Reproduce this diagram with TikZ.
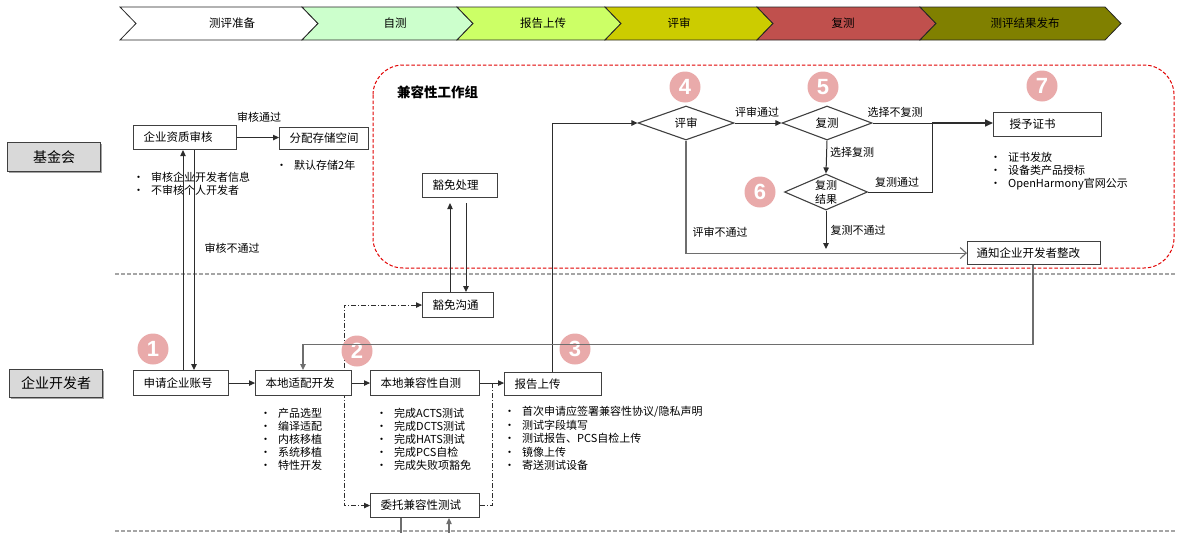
\documentclass[tikz,border=0pt]{standalone}
\usepackage{fontspec}
\setmainfont{Noto Sans CJK SC}
\newfontfamily\numfont{Liberation Sans}
\usetikzlibrary{arrows.meta,shapes.geometric,shadows,calc}
\definecolor{boxc}{RGB}{64,64,64}
\definecolor{linec}{RGB}{45,45,45}
\definecolor{glinec}{RGB}{110,110,110}
\definecolor{pinkc}{RGB}{233,170,170}
\definecolor{sepc}{RGB}{165,165,165}
\definecolor{redc}{RGB}{225,0,0}
\definecolor{chA}{RGB}{255,255,255}
\definecolor{chB}{RGB}{204,255,204}
\definecolor{chC}{RGB}{204,255,102}
\definecolor{chD}{RGB}{204,204,0}
\definecolor{chE}{RGB}{192,80,77}
\definecolor{chF}{RGB}{128,128,0}
\definecolor{lanec}{RGB}{217,217,217}
\newcommand\fsA{\fontsize{11.5}{13}\selectfont}
\newcommand\fsB{\fontsize{11}{13}\selectfont}
\newcommand\bl[1]{\makebox[18pt][l]{•}#1}
\pgfdeclarelayer{bg}
\pgfsetlayers{bg,main}
\begin{document}
\begin{tikzpicture}[x=1pt,y=-1pt,
  chevline/.style={draw=black!85, line width=0.8pt},
  bx/.style={draw=boxc, line width=1.1pt, fill=white, anchor=north west, inner xsep=10pt, inner ysep=0pt, text width=#1, align=left, font=\fsA},
  lane/.style={draw=boxc, line width=1.1pt, fill=lanec, anchor=north west, inner sep=0pt, font=\fontsize{14}{16}\selectfont, drop shadow={shadow xshift=1.8pt, shadow yshift=-1.8pt, fill=black!45, opacity=0.8}},
  dia/.style={diamond, draw=boxc, line width=1.1pt, fill=white, inner sep=0pt, font=\fsA},
  circ/.style={circle, fill=pinkc, minimum size=31pt, inner sep=0pt, text=white, font=\numfont\bfseries\fontsize{22}{22}\selectfont},
  lbl/.style={inner sep=0pt, font=\fsB},
  blist/.style={inner sep=0pt, anchor=north west, align=left, font=\fsB},
  arr/.style={draw=linec, line width=1pt, -{Triangle[length=6pt,width=5.5pt]}},
  garr/.style={draw=glinec, line width=1.1pt, -{Triangle[length=6pt,width=5.5pt]}},
  gline/.style={draw=glinec, line width=1.1pt},
  line/.style={draw=linec, line width=1pt},
  oarr/.style={draw=glinec, line width=1.1pt, -{Straight Barb[length=6pt,width=11pt]}},
  dd/.style={draw=linec, line width=0.9pt, dash pattern=on 5pt off 2pt on 1pt off 2pt},
  sep/.style={draw=sepc, line width=1.6pt, dash pattern=on 4pt off 2pt},
]
\useasboundingbox (0,0) rectangle (1200,533);

% ---------- phase banner ----------
\draw[chevline, fill=chA] (120,7) -- (302,7) -- (318,23.5) -- (302,40) -- (120,40) -- (136,23.5) -- cycle;
\draw[chevline, fill=chB] (302,7) -- (457,7) -- (473,23.5) -- (457,40) -- (302,40) -- (318,23.5) -- cycle;
\draw[chevline, fill=chC] (457,7) -- (605,7) -- (621,23.5) -- (605,40) -- (457,40) -- (473,23.5) -- cycle;
\draw[chevline, fill=chD] (605,7) -- (757,7) -- (773,23.5) -- (757,40) -- (605,40) -- (621,23.5) -- cycle;
\draw[chevline, fill=chE] (757,7) -- (920,7) -- (936,23.5) -- (920,40) -- (757,40) -- (773,23.5) -- cycle;
\draw[chevline, fill=chF] (920,7) -- (1105,7) -- (1121,23.5) -- (1105,40) -- (920,40) -- (936,23.5) -- cycle;
\node[lbl, font=\fsA] (p1) at (232,23.5) {测评准备};
\node[lbl, font=\fsA] (p2) at (395,23.5) {自测};
\node[lbl, font=\fsA] (p3) at (543,23.5) {报告上传};
\node[lbl, font=\fsA] (p4) at (679,23.5) {评审};
\node[lbl, font=\fsA] (p5) at (843,23.5) {复测};
\node[lbl, font=\fsA] (p6) at (1025,23.5) {测评结果发布};

% ---------- lanes ----------
\draw[sep] (115,274) -- (1176,274);
\draw[sep] (115,531) -- (1176,531);
\draw[redc, line width=1pt, dash pattern=on 3.5pt off 2pt, rounded corners=30pt] (373,65) rectangle (1174,268);
\node[inner sep=0pt, anchor=west, font=\fontsize{13.5}{15}\selectfont\bfseries] (grp) at (397,92) {兼容性工作组};

\node[lane, minimum width=93pt, minimum height=29pt] (jj) at (7,142) {基金会};
\node[lane, minimum width=93pt, minimum height=28pt] (qy) at (9,369) {企业开发者};

% ---------- boxes ----------
\node[bx=83pt, minimum height=24pt] (zz) at (133,125) {企业资质审核};
\node[bx=69pt, minimum height=22pt] (fp) at (279,127) {分配存储空间};
\node[bx=75pt, minimum height=25pt] (sq) at (133,370) {申请企业账号};
\node[bx=76pt, minimum height=25pt] (bd) at (255,370) {本地适配开发};
\node[bx=89pt, minimum height=25pt] (zc) at (370,370) {本地兼容性自测};
\node[bx=77pt, minimum height=23pt] (bg) at (504,372) {报告上传};
\node[bx=51pt, minimum height=25pt] (hg) at (422,292) {豁免沟通};
\node[bx=55pt, minimum height=24pt] (hc) at (422,173) {豁免处理};
\node[bx=89pt, minimum height=24pt] (wt) at (370,493) {委托兼容性测试};
\node[bx=108pt, minimum height=24pt, inner xsep=0pt, text width=108pt] (sz) at (993,112) {\hspace*{16pt}授予证书};
\node[bx=115pt, minimum height=23pt, inner xsep=9pt] (tz) at (967,241) {通知企业开发者整改};

\node[dia, minimum width=96pt, minimum height=34pt] (ps) at (686,123) {评审};
\node[dia, minimum width=90pt, minimum height=34pt] (fc) at (827,123) {复测};
\node[dia, minimum width=83pt, minimum height=36pt, aspect=2.3, align=center, font=\fontsize{11}{14}\selectfont] (jg) at (826,192) {复测\\结果};

% ---------- numbered circles ----------
\node[circ] (c1) at (153,349) {1};
\node[circ] (c2) at (357,351) {2};
\node[circ] (c3) at (575,349) {3};
\node[circ] (c4) at (685,87) {4};
\node[circ] (c5) at (823,87) {5};
\node[circ] (c6) at (760,192) {6};
\node[circ] (c7) at (1042,86) {7};

% ---------- bullet lists ----------
\node[blist] (l1) at (133,172) {\bl{审核企业开发者信息}\\\bl{不审核个人开发者}};
\node[blist] (l2) at (276,160) {\bl{默认存储2年}};
\node[blist] (l3) at (260,408) {\bl{产品选型}\\\bl{编译适配}\\\bl{内核移植}\\\bl{系统移植}\\\bl{特性开发}};
\node[blist] (l4) at (376,408) {\bl{完成ACTS测试}\\\bl{完成DCTS测试}\\\bl{完成HATS测试}\\\bl{完成PCS自检}\\\bl{完成失败项豁免}};
\node[blist, font=\fontsize{11}{13.5}\selectfont] (l5) at (504,406) {\bl{首次申请应签署兼容性协议/隐私声明}\\\bl{测试字段填写}\\\bl{测试报告、PCS自检上传}\\\bl{镜像上传}\\\bl{寄送测试设备}};
\node[blist] (l6) at (990,152) {\bl{证书发放}\\\bl{设备类产品授标}\\\bl{OpenHarmony官网公示}};

% ---------- connectors ----------
\begin{pgfonlayer}{bg}
\coordinate (ddx) at (344,400);
\draw[dd, {Triangle[length=6pt,width=5.5pt]}-{Triangle[length=6pt,width=5.5pt]}] (hg.west) -| (ddx) |- (wt.west);
\draw[dd] (wt.east) -| ($(zc.east)!0.5!(bg.west)$);
\end{pgfonlayer}

\draw[arr] (zz.east) -- (zz.east -| fp.west);
\node[lbl] (t1) at (259,117) {审核通过};
\draw[arr] ([xshift=50pt]sq.north west) -- ([xshift=50pt]zz.south west);
\draw[arr] ([xshift=61pt]zz.south west) -- ([xshift=61pt]sq.north west);
\node[lbl] (t2) at (232,248) {审核不通过};

\draw[arr] (sq.east) -- (bd.west);
\draw[arr] (bd.east) -- (zc.west);
\draw[arr] (zc.east) -- (zc.east -| bg.west);
\draw[arr] ([xshift=48pt]bg.north west) |- (ps.west);

\draw[arr, shorten >=5pt] ([xshift=28pt]hg.north west) -- ([xshift=28pt]hc.south west);
\draw[arr, shorten <=5pt] ([xshift=44pt]hc.south west) -- ([xshift=44pt]hg.north west);

\coordinate (bot1) at (401,533);
\coordinate (bot2) at (449,533);
\draw[gline] ([xshift=31pt]wt.south west) -- (bot1);
\draw[garr] (bot2) -- ([xshift=79pt]wt.south west);

\draw[garr] ([xshift=66pt]tz.south west) -- ++(0,79) -| ([xshift=48pt]bd.north west);

\draw[arr] (ps.east) -- (fc.west);
\node[lbl] (t3) at (757,112) {评审通过};
\coordinate (J) at (932,123);
\draw[line] (fc.east) -- (J);
\draw[draw=linec, line width=1.6pt, -{Triangle[length=8pt,width=7pt]}] (J) -- (J -| sz.west);
\node[lbl] (t4) at (895,112) {选择不复测};
\draw[arr] (fc.south) -- (jg.north);
\node[lbl] (t5) at (852,152) {选择复测};
\draw[line] (jg.east) -| (J);
\node[lbl] (t6) at (897,182) {复测通过};
\coordinate (K) at (826,249);
\draw[arr] (jg.south) -- (K);
\node[lbl] (t7) at (858,230) {复测不通过};
\draw[oarr] (ps.south) |- (tz.west);
\node[lbl] (t8) at (720,232) {评审不通过};
\end{tikzpicture}
\end{document}
